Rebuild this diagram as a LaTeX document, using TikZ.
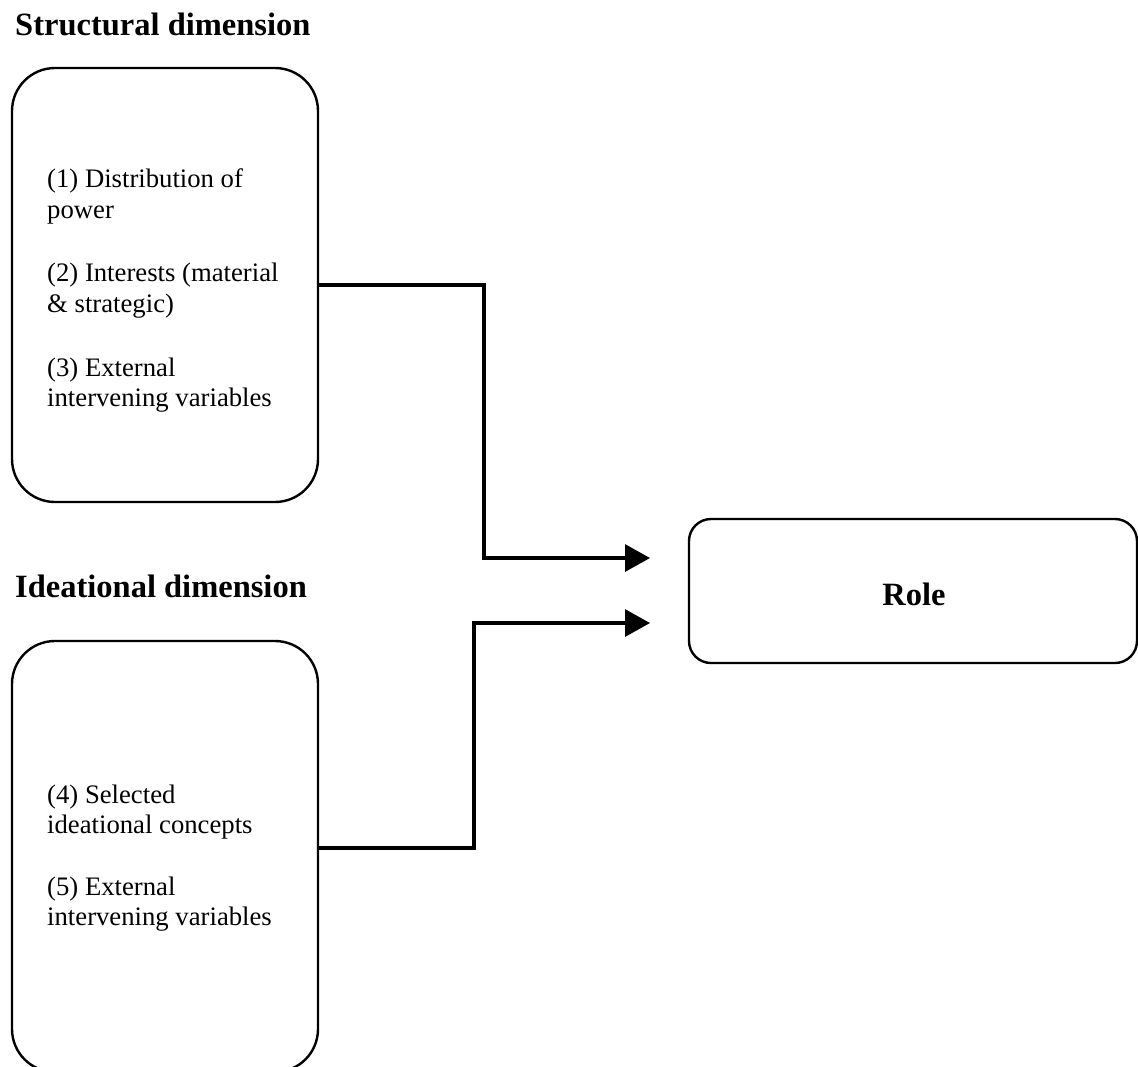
\documentclass[tikz,border=0pt]{standalone}
\usepackage{fontspec}
\setmainfont{Liberation Serif}
\usetikzlibrary{arrows.meta}
\begin{document}
\begin{tikzpicture}[x=1pt,y=-1pt,
  boxst/.style={draw,line width=2.4pt,rounded corners=43pt,inner sep=0pt},
  rolest/.style={draw,line width=2.4pt,rounded corners=22pt,inner sep=0pt},
  bodytxt/.style={anchor=base west,inner sep=0pt,font=\fontsize{26.7}{31}\selectfont},
  titletxt/.style={anchor=base west,inner sep=0pt,font=\fontsize{32.5}{38}\selectfont\bfseries},
  conn/.style={line width=3.2pt,-{Triangle[length=25pt,width=27pt]}}]
\useasboundingbox (0,0) rectangle (1138,1066);
\begin{scope}
\clip (0,0) rectangle (1138,1066);
% boxes
\node[boxst,minimum width=306pt,minimum height=434pt] (top) at (165,285) {};
\node[boxst,minimum width=306pt,minimum height=431pt] (bot) at (165,856.5) {};
\node[rolest,minimum width=448pt,minimum height=144pt] (role) at (913,591) {};
\end{scope}
% titles
\node[titletxt] (t1) at (15,35) {Structural dimension};
\node[titletxt] (t2) at (15,597) {Ideational dimension};
\node[anchor=base,inner sep=0pt,font=\fontsize{32.5}{38}\selectfont\bfseries] (rl) at (914,605) {Role};
% top box text
\node[bodytxt] (a1) at (47,187) {(1) Distribution of};
\node[bodytxt] (a2) at (47,218) {power};
\node[bodytxt] (a3) at (47,281) {(2) Interests (material};
\node[bodytxt] (a4) at (47,312) {\& strategic)};
\node[bodytxt] (a5) at (47,376) {(3) External};
\node[bodytxt] (a6) at (47,406) {intervening variables};
% bottom box text
\node[bodytxt] (b1) at (47,803) {(4) Selected};
\node[bodytxt] (b2) at (47,833) {ideational concepts};
\node[bodytxt] (b3) at (47,895) {(5) External};
\node[bodytxt] (b4) at (47,925) {intervening variables};
% connectors
\coordinate (e1) at (650,558);
\coordinate (e2) at (650,623);
\coordinate (s2) at (318,848);
\draw[conn] (top.east) -- (484,285) |- (e1);
\draw[conn] (s2) -- (474,848) |- (e2);
\end{tikzpicture}
\end{document}
